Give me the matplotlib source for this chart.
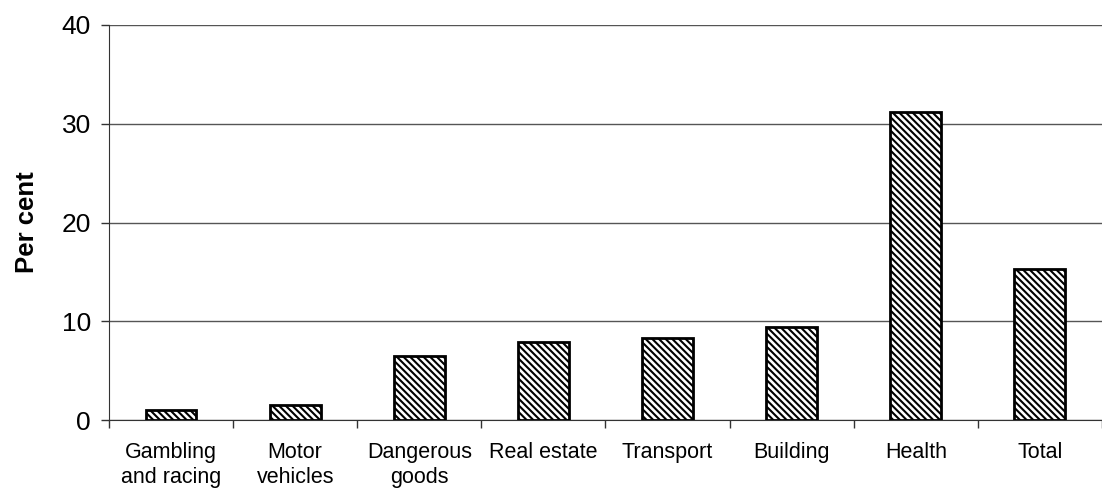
import matplotlib
matplotlib.use("Agg")
import matplotlib.pyplot as plt
import numpy as np

plt.rcParams["font.family"] = ["Liberation Sans", "DejaVu Sans"]
plt.rcParams["hatch.linewidth"] = 1.5

categories = ["Gambling\nand racing", "Motor\nvehicles", "Dangerous\ngoods", "Real estate",
              "Transport", "Building", "Health", "Total"]
values = [1.0, 1.5, 6.5, 7.9, 8.3, 9.4, 31.2, 15.3]
y_ticks = [0, 10, 20, 30, 40]

fig = plt.figure(figsize=(11.02, 4.88), dpi=100)
ax = fig.add_axes([0.0989, 0.139, 0.9011, 0.81])

x = np.arange(len(categories))
ax.bar(x, values, width=0.41, color="white", edgecolor="black", linewidth=2,
       hatch="\\" * 5, zorder=3)

ax.set_xlim(-0.5, len(categories) - 0.5)
ax.set_ylim(0, 40)
ax.set_yticks(y_ticks)
ax.tick_params(axis="y", labelsize=19, length=6, width=1, color="#333333", pad=7)
ax.yaxis.grid(True, color="#555555", linewidth=1)
ax.set_axisbelow(True)

# category labels sit between boundary ticks
ax.set_xticks(x)
ax.set_xticklabels(categories, fontsize=15.5, va="top", linespacing=1.25)
ax.tick_params(axis="x", length=0, pad=16)
ax.set_xticks(np.arange(len(categories) + 1) - 0.5, minor=True)
ax.tick_params(axis="x", which="minor", length=6, width=1, color="#333333")

for side in ("top", "right"):
    ax.spines[side].set_visible(False)
ax.spines["left"].set_color("#333333")
ax.spines["bottom"].set_color("#333333")

ax.set_ylabel("Per cent", fontsize=18.5, fontweight="bold", labelpad=16)

fig.savefig("out.png", dpi=100)
